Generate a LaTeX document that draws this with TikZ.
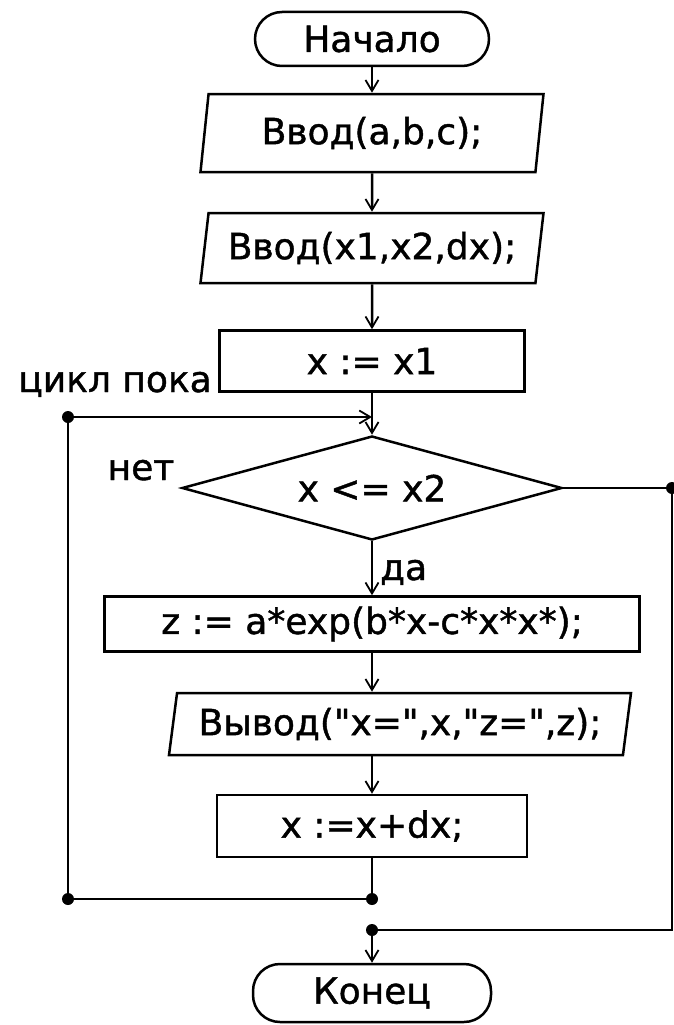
\documentclass[tikz,border=0pt]{standalone}
\usepackage{fontspec}
\setmainfont{DejaVu Sans}[Ligatures=TeXOff,FakeBold=1.2]
\usetikzlibrary{shapes.geometric,arrows.meta}

\begin{document}
\begin{tikzpicture}[x=1pt,y=1pt,yscale=-1,
    every node/.style={font=\fontsize{36}{40}\selectfont},
    line/.style={line width=2.5pt},
    arr/.style={line width=2.5pt,-{Straight Barb[length=11pt,width=13pt,line width=1.8pt]}},
    term/.style={draw,line width=2.5pt,rectangle,rounded corners=27pt,minimum width=234pt,minimum height=54pt,inner sep=0pt},
    io/.style={draw,line width=2.5pt,trapezium,trapezium left angle=76,trapezium right angle=104,trapezium stretches body,minimum height=78pt,inner sep=0pt},
    proc/.style={draw,line width=2.5pt,rectangle,inner sep=0pt},
    cond/.style={draw,line width=2.5pt,diamond,aspect=3.65,minimum width=380pt,minimum height=104pt,inner sep=0pt},
    dot/.style={circle,fill,inner sep=0pt,minimum size=12pt},
    lbl/.style={inner sep=0pt}]
    \useasboundingbox (0,0) rectangle (674,1025);
    
    % Blocks
    \node[term] (start) at (372,39) {Начало};
    \node[io,minimum width=343pt] (inabc) at (372,133) {Ввод(a,b,c);};
    \node[io,minimum width=343pt,minimum height=70pt] (inx) at (372,248) {Ввод(x1,x2,dx);};
    \node[proc,minimum width=305pt,minimum height=61pt] (init) at (372,361) {x := x1};
    \node[cond] (cond) at (372,488) {x <= x2};
    \node[proc,minimum width=535pt,minimum height=55pt] (calc) at (372,624) {z := a*exp(b*x-c*x*x*);};
    \node[io,minimum width=462pt,minimum height=62pt] (out) at (400,724) {Вывод("x=",x,"z=",z);};
    \node[proc,minimum width=310pt,minimum height=62pt] (incr) at (372,826) {x :=x+dx;};
    \node[term,minimum width=238pt,minimum height=58pt] (stop) at (372,993) {Конец};
    
    % Junctions
    \node[dot] (loopin) at (68,417) {};
    \coordinate (merge) at (372,417);
    \node[dot] (loopend) at (372,899) {};
    \node[dot] (loopleft) at (68,899) {};
    \node[dot] (noright) at (672,488) {};
    \coordinate (nocorner) at (672,930);
    \node[dot] (exitdot) at (372,930) {};
    
    % Text Node
    \node[lbl,anchor=base east] (looplbl) at (212,392) {цикл пока};
    \node[lbl,anchor=base] (nolbl) at (141,480) {нет};
    \node[lbl,anchor=base west] (yeslbl) at (380,580) {да};
    
    % Connectors
    \draw[arr] (start) -- (inabc);
    \draw[arr] (inabc) -- (inx);
    \draw[arr] (inx) -- (init);
    \draw[line] (init) -- (merge);
    \draw[arr] (loopin) -- (merge);
    \draw[arr] (merge) -- (cond.north);
    \draw[arr] (cond) -- (calc);
    \draw[arr] (calc) -- (calc |- out.north);
    \draw[arr] (calc |- out.south) -- (incr);
    \draw[line] (incr) -- (loopend);
    \draw[line] (loopend) -- (loopleft) -- (loopin);
    \draw[line] (cond.east) -- (noright) -- (nocorner) -- (exitdot);
    \draw[arr] (exitdot) -- (stop);
\end{tikzpicture}
\end{document}
